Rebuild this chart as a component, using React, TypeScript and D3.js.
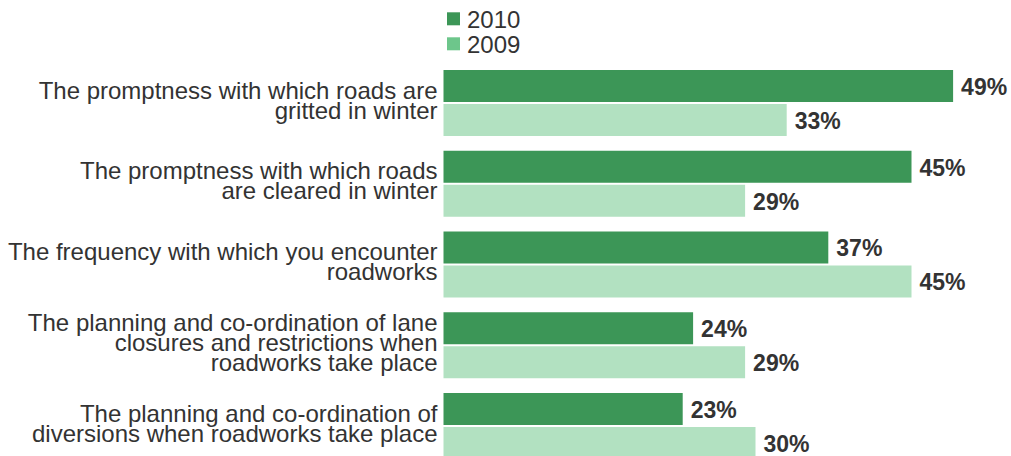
import React from "react";
import * as d3 from "d3";

const categories: string[][] = [
  ["The promptness with which roads are", "gritted in winter"],
  ["The promptness with which roads", "are cleared in winter"],
  ["The frequency with which you encounter", "roadworks"],
  ["The planning and co-ordination of lane", "closures and restrictions when", "roadworks take place"],
  ["The planning and co-ordination of", "diversions when roadworks take place"],
];
const seriesNames = ["2010", "2009"];
const values2010 = [49, 45, 37, 24, 23];
const values2009 = [33, 29, 45, 29, 30];
const barColors = ["#3c9657", "#b2e1c1"];
const legendColors = ["#3c9657", "#6dc68b"];

const W = 1011;
const H = 456;
const FONT = "'Liberation Sans', Arial, Helvetica, sans-serif";

export default function App() {
  const keys = categories.map((_, i) => String(i));
  const y = d3
    .scaleBand<string>()
    .domain(keys)
    .range([70, 70 + 4 * 80.75 + 66])
    .paddingInner(14.75 / 80.75)
    .paddingOuter(0);
  const ySub = d3
    .scaleBand<string>()
    .domain(seriesNames)
    .range([0, y.bandwidth()])
    .paddingInner(2 / 34);
  const x = d3.scaleLinear().domain([0, 100]).range([443.5, 443.5 + 1040]);
  const series = [values2010, values2009];

  return (
    <svg
      width={W}
      height={H}
      style={{ position: "absolute", left: 0, top: 0, background: "#fff" }}
      fontFamily={FONT}
    >
      {/* legend */}
      {seriesNames.map((s, i) => (
        <g key={s} transform={`translate(447,${12.3 + i * 25})`}>
          <rect width={13} height={13} fill={legendColors[i]} />
          <text x={20} y={15.4} fontSize={24} fill="#333">
            {s}
          </text>
        </g>
      ))}
      {categories.map((lines, ci) => {
        const y0 = y(keys[ci]) as number;
        const center = y0 + y.bandwidth() / 2;
        const n = lines.length;
        return (
          <g key={ci}>
            <text textAnchor="end" fontSize={24} fill="#333">
              {lines.map((ln, li) => (
                <tspan key={li} x={437.5} y={center + 5.5 + (li - (n - 1) / 2) * 20}>
                  {ln}
                </tspan>
              ))}
            </text>
            {seriesNames.map((s, si) => {
              const v = series[si][ci];
              const by = y0 + (ySub(s) as number);
              const bh = ySub.bandwidth();
              return (
                <g key={s}>
                  <rect x={x(0)} y={by} width={x(v) - x(0)} height={bh} fill={barColors[si]} />
                  <text
                    x={x(v) + 8}
                    y={by + bh / 2 + 8.8}
                    fontSize={23}
                    fontWeight="bold"
                    fill="#333"
                  >
                    {v}%
                  </text>
                </g>
              );
            })}
          </g>
        );
      })}
    </svg>
  );
}
